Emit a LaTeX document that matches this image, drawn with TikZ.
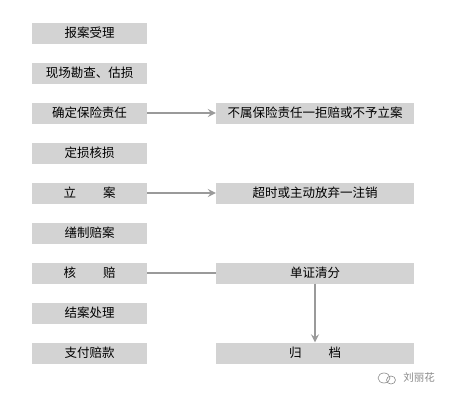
\documentclass[tikz,border=0pt]{standalone}
\usepackage{fontspec}
\setmainfont{Noto Sans CJK SC}
\usetikzlibrary{arrows.meta}
\definecolor{boxgray}{HTML}{D3D3D3}
\definecolor{linegray}{HTML}{9A9A9A}
\definecolor{markgray}{HTML}{8A8A8A}
\begin{document}
\begin{tikzpicture}[x=1pt,y=-1pt,
  stepbox/.style={fill=boxgray, draw=none, minimum height=21pt, inner sep=0pt, font=\fontsize{12.5}{13}\selectfont},
  leftbox/.style={stepbox, minimum width=115pt},
  rightbox/.style={stepbox, minimum width=198pt},
  conn/.style={draw=linegray, line width=1.3pt},
  arr/.style={conn, -{Stealth[length=8pt,width=8pt,inset=3pt]}}]
\fill[white] (0,0) rectangle (450,400);
\useasboundingbox (0,0) rectangle (450,400);
\node[leftbox] (a1) at (89.5,33) {报案受理};
\node[leftbox] (a2) at (89.5,73) {现场勘查、估损};
\node[leftbox] (a3) at (89.5,113) {确定保险责任};
\node[leftbox] (a4) at (89.5,153) {定损核损};
\node[leftbox] (a5) at (89.5,193) {立\hspace{27pt}案};
\node[leftbox] (a6) at (89.5,233) {缮制赔案};
\node[leftbox] (a7) at (89.5,273) {核\hspace{27pt}赔};
\node[leftbox] (a8) at (89.5,313) {结案处理};
\node[leftbox] (a9) at (89.5,353) {支付赔款};
\node[rightbox] (b1) at (315,113) {不属保险责任一拒赔或不予立案};
\node[rightbox] (b2) at (315,193) {超时或主动放弃一注销};
\node[rightbox] (b3) at (315,273) {单证清分};
\node[rightbox] (b4) at (315,353) {归\hspace{27pt}档};
\draw[arr] (a3) -- (b1);
\draw[arr] (a5) -- (b2);
\draw[conn] (a7) -- (b3);
\draw[arr] (b3) -- (b4);
% watermark
\draw[markgray, line width=0.6pt] (384,378) ellipse (6pt and 5pt);
\draw[markgray, line width=0.6pt] (391,380) ellipse (4.5pt and 4pt);
\node[text=markgray, font=\fontsize{10.5}{11}\selectfont, inner sep=0pt] (wm) at (419,378) {刘丽花};
\end{tikzpicture}
\end{document}
